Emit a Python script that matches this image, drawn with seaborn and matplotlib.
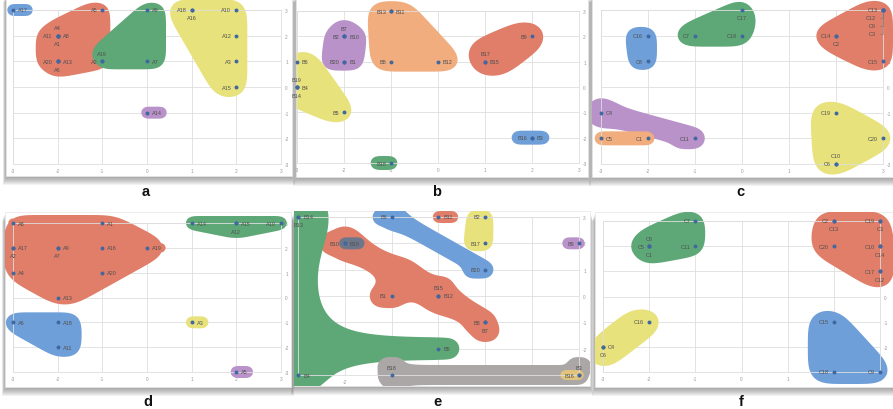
import numpy as np
import pandas as pd
import matplotlib
matplotlib.use("Agg")
import matplotlib.pyplot as plt
import matplotlib.transforms as mtrans
from matplotlib.patches import Rectangle
from matplotlib.path import Path
import seaborn as sns

sns.set_theme(style="white")
plt.rcParams['font.family'] = ['Liberation Sans', 'DejaVu Sans']

# ---- data: label, x, y, label side, group ----
a_lab = ['A17', 'A5', 'A4', 'A11', 'A8', 'A1', 'A20', 'A13', 'A6', 'A2', 'A19', 'A9', 'A7',
         'A18', 'A16', 'A10', 'A12', 'A3', 'A15', 'A14']
a_x = [-3, -1, -2, -2, -2, -2, -2, -2, -2, -1, -1, 0, 0, 1, 1, 2, 2, 2, 2, 0]
a_y = [3, 3, 2, 2, 2, 2, 1, 1, 1, 1, 1, 3, 1, 3, 3, 3, 2, 1, 0, -1]
a_pos = ['r', 'l', 'a', 'l', 'r', 'b', 'l', 'r', 'b', 'l', 'a', 'r', 'r', 'l', 'b', 'l', 'l', 'l', 'l', 'r']
a_grp = ['blue'] + ['red'] * 9 + ['green'] * 3 + ['yellow'] * 6 + ['purple']

b_lab = ['B7', 'B2', 'B10', 'B20', 'B1', 'B13', 'B11', 'B8', 'B12', 'B9', 'B17', 'B15',
         'B6', 'B19', 'B4', 'B14', 'B5', 'B16', 'B3', 'B18']
b_x = [-2, -2, -2, -2, -2, -1, -1, -1, 0, 2, 1, 1, -3, -3, -3, -3, -2, 2, 2, -1]
b_y = [2, 2, 2, 1, 1, 3, 3, 1, 1, 2, 1, 1, 1, 0, 0, 0, -1, -2, -2, -3]
b_pos = ['a', 'l', 'r', 'l', 'r', 'l', 'r', 'l', 'r', 'l', 'a', 'r', 'r', 'al', 'r', 'bl', 'l', 'l', 'r', 'l']
b_grp = ['purple'] * 5 + ['orange'] * 4 + ['red'] * 3 + ['yellow'] * 5 + ['blue'] * 2 + ['green']

c_lab = ['C16', 'C8', 'C17', 'C7', 'C18', 'C13', 'C12', 'C9', 'C3', 'C14', 'C2', 'C15',
         'C4', 'C11', 'C5', 'C1', 'C19', 'C20', 'C10', 'C6']
c_x = [-2, -2, 0, -1, 0, 3, 3, 3, 3, 2, 2, 3, -3, -1, -3, -2, 2, 3, 2, 2]
c_y = [2, 1, 3, 2, 2, 3, 3, 3, 3, 2, 2, 1, -1, -2, -2, -2, -1, -2, -3, -3]
c_pos = ['l', 'l', 'b', 'l', 'l', 'l', 's1', 's2', 's3', 'l', 'b', 'l', 'r', 'l', 'r', 'l', 'l', 'l', 'a', 'l']
c_grp = ['blue'] * 2 + ['green'] * 3 + ['red'] * 7 + ['purple'] * 2 + ['orange'] * 2 + ['yellow'] * 4

d_lab = ['A8', 'A1', 'A17', 'A2', 'A9', 'A7', 'A16', 'A19', 'A4', 'A20', 'A13',
         'A14', 'A15', 'A12', 'A10', 'A6', 'A18', 'A11', 'A3', 'A5']
d_x = [-3, -1, -3, -3, -2, -2, -1, 0, -3, -1, -2, 1, 2, 2, 3, -3, -2, -2, 1, 2]
d_y = [3, 3, 2, 2, 2, 2, 2, 2, 1, 1, 0, 3, 3, 3, 3, -1, -1, -2, -1, -3]
d_pos = ['r', 'r', 'r', 'b', 'r', 'b', 'r', 'r', 'r', 'r', 'r', 'r', 'r', 'b', 'l', 'r', 'r', 'r', 'r', 'r']
d_grp = ['red'] * 11 + ['green'] * 4 + ['blue'] * 3 + ['yellow', 'purple']

e_lab = ['B14', 'B13', 'B4', 'B5', 'B10', 'B15', 'B8', 'B7', 'B1', 'B19', 'B12',
         'B6', 'B20', 'B11', 'B2', 'B17', 'B9', 'B18', 'B3', 'B16']
e_x = [-3, -3, -3, 0, -2, 0, 1, 1, -1, -2, 0, -1, 1, 0, 1, 1, 3, -1, 3, 3]
e_y = [3, 3, -3, -2, 2, 0, -1, -1, 0, 2, 0, 3, 1, 3, 3, 2, 2, -3, -3, -3]
e_pos = ['r', 'b', 'r', 'r', 'l', 'a', 'l', 'b', 'l', 'r', 'r', 'l', 'l', 'r', 'l', 'l', 'l', 'a', 'a', 'l']
e_grp = ['green'] * 4 + ['red'] * 5 + ['slate', 'orange', 'blue', 'blue', 'red2',
                                         'yellow', 'yellow', 'purple', 'gray', 'gray', 'tan']

f_lab = ['C7', 'C8', 'C5', 'C1', 'C11', 'C2', 'C13', 'C19', 'C3', 'C20', 'C10', 'C14',
         'C17', 'C12', 'C16', 'C4', 'C6', 'C15', 'C18', 'C9']
f_x = [-1, -2, -2, -2, -1, 2, 2, 3, 3, 2, 3, 3, 3, 3, -2, -3, -3, 2, 2, 3]
f_y = [3, 2, 2, 2, 2, 3, 3, 3, 3, 2, 2, 2, 1, 1, -1, -2, -2, -1, -3, -3]
f_pos = ['l', 'a', 'l', 'b', 'l', 'l', 'b', 'l', 'b', 'l', 'l', 'b', 'l', 'b', 'l', 'r', 'b', 'l', 'l', 'l']
f_grp = ['green'] * 5 + ['red'] * 9 + ['yellow'] * 3 + ['blue'] * 3

# ---- styles ----
colors = dict(red='#e07e69', red2='#e07e69', green='#5ea877', yellow='#e8e27c', blue='#6f9fd8',
              purple='#b892c8', orange='#f1ad7e', gray='#aba7a7', slate='#6e768a', tan='#e3c47c')
# (group, filled hull, pad px, fillet px, blur px)
a_blobs = [('blue', True, 6, 0, 2), ('red', True, 8, 0, 7), ('green', True, 8, 0, 7),
           ('yellow', True, 11, 0, 9), ('purple', True, 6, 0, 2)]
b_blobs = [('purple', True, 9, 0, 6), ('orange', True, 10, 0, 9), ('red', True, 15, 0, 10),
           ('yellow', True, 11, 0, 9), ('blue', True, 7, 0, 3), ('green', True, 7, 0, 3)]
c_blobs = [('blue', True, 9, 0, 6), ('green', True, 11, 0, 9), ('red', True, 10, 0, 9),
           ('purple', False, 11, 6, 5), ('orange', True, 7, 0, 3), ('yellow', True, 12, 0, 10)]
d_blobs = [('red', True, 8, 0, 10), ('green', True, 7, 0, 4), ('blue', True, 10, 0, 7),
           ('yellow', True, 6, 0, 2), ('purple', True, 6, 0, 2)]
e_blobs = [('orange', True, 6, 0, 2), ('red', False, 12, 8, 5), ('slate', True, 6, 0, 2),
           ('green', False, 11, 28, 5), ('blue', False, 9, 6, 4), ('red2', True, 6, 0, 2),
           ('yellow', True, 8, 0, 5), ('purple', True, 6, 0, 2), ('gray', False, 10, 6, 3),
           ('tan', True, 5, 0, 2)]
f_blobs = [('green', True, 10, 0, 8), ('red', True, 10, 0, 10), ('yellow', True, 13, 0, 9),
           ('blue', True, 12, 0, 10)]

# layout in pixels (x0, top, x1, bottom)
W, H, DPI = 893, 410, 100
axes_px = dict(a=(13, 11, 281, 165), b=(297, 12, 579, 164), c=(601, 11, 883, 165),
               d=(13, 224, 281, 373), e=(298, 218, 579, 376), f=(603, 222, 880, 373))
cards_px = dict(a=(6, -6, 292, 177), b=(296, -6, 588, 178), c=(592, -6, 899, 178),
                d=(5, 213, 291, 388), e=(294, 212, 590, 387), f=(595, 213, 899, 388))
letter_px = dict(a=(146, 192), b=(437, 192), c=(740, 192), d=(148, 402), e=(437, 402), f=(741, 402))

SIDE = dict(r=(5, 0, 'left'), l=(-5, 0, 'right'), a=(0, 8, 'center'), b=(0, -8, 'center'),
            al=(4, 8, 'right'), bl=(4, -8, 'right'),
            s1=(-7, -8, 'right'), s2=(-7, -16, 'right'), s3=(-7, -24, 'right'))
CHAR_W = 3.0
FS = 4.0
NG = 460


def label_seg(p, pos, text):
    w = CHAR_W * len(text)
    dx, dy, ha = SIDE[pos]
    x0 = p[0] + dx - (w if ha == 'right' else w / 2 if ha == 'center' else 0)
    return ((x0, p[1] + dy), (x0 + w, p[1] + dy))


def seg_dist(PX, PY, a, b):
    dx, dy = b[0] - a[0], b[1] - a[1]
    L = dx * dx + dy * dy
    t = 0 if L == 0 else np.clip(((PX - a[0]) * dx + (PY - a[1]) * dy) / L, 0, 1)
    return np.hypot(PX - (a[0] + t * dx), PY - (a[1] + t * dy))


def nearest_on(p, a, b):
    dx, dy = b[0] - a[0], b[1] - a[1]
    L = dx * dx + dy * dy
    t = 0 if L == 0 else min(max(((p[0] - a[0]) * dx + (p[1] - a[1]) * dy) / L, 0), 1)
    return (a[0] + t * dx, a[1] + t * dy)


def hull(points):
    pts = sorted(set(points))
    if len(pts) <= 2:
        return pts

    def cross(o, a, b):
        return (a[0] - o[0]) * (b[1] - o[1]) - (a[1] - o[1]) * (b[0] - o[0])
    lower, upper = [], []
    for p in pts:
        while len(lower) >= 2 and cross(lower[-2], lower[-1], p) <= 0:
            lower.pop()
        lower.append(p)
    for p in reversed(pts):
        while len(upper) >= 2 and cross(upper[-2], upper[-1], p) <= 0:
            upper.pop()
        upper.append(p)
    return lower[:-1] + upper[:-1]


def poly_dist(PX, PY, poly):
    if len(poly) == 1:
        return np.hypot(PX - poly[0][0], PY - poly[0][1])
    if len(poly) == 2:
        return seg_dist(PX, PY, poly[0], poly[1])
    d = np.min([seg_dist(PX, PY, poly[i], poly[(i + 1) % len(poly)]) for i in range(len(poly))], axis=0)
    inside = Path(poly).contains_points(np.c_[PX.ravel(), PY.ravel()]).reshape(PX.shape)
    d[inside] = 0
    return d


def smooth_min(comps, k):
    comps = np.array(comps)
    m = comps.min(axis=0)
    if k <= 0 or len(comps) == 1:
        return m
    return m - k * np.log(np.exp(-(comps - m) / k).sum(axis=0))


def blur(M, sig_x, sig_y):
    def conv1(A, sig, axis):
        if sig <= 0.3:
            return A
        rad = int(3 * sig) + 1
        k = np.exp(-0.5 * (np.arange(-rad, rad + 1) / sig) ** 2)
        k /= k.sum()
        return np.apply_along_axis(lambda v: np.convolve(v, k, mode='same'), axis, A)
    return conv1(conv1(M, sig_x, 1), sig_y, 0)


def soft_mask(D, r):
    return 1.0 / (1.0 + np.exp(np.clip((D - r) / 0.6, -50, 50)))


fig = plt.figure(figsize=(W / DPI, H / DPI), dpi=DPI)
fig.patch.set_facecolor('white')


def px_rect(r):
    x0, t, x1, b = r
    return x0 / W, 1 - b / H, (x1 - x0) / W, (b - t) / H


def draw_panel(key, lab, xs, ys, pos, grp, blobs):
    l, b, w, h = px_rect(cards_px[key])
    # drop shadow under the white card
    for i in range(1, 9):
        fig.patches.append(Rectangle((l - 0.4 * i / W, b - (i + 1) / H), w + 0.8 * i / W, h,
                                     transform=fig.transFigure, facecolor='#5a5a5a',
                                     edgecolor='none', alpha=0.08, zorder=-6))
    card = Rectangle((l, b), w, h, transform=fig.transFigure, facecolor='white',
                     edgecolor='#e6e6e6', lw=0.5, zorder=-5)
    fig.patches.append(card)

    ax = fig.add_axes(px_rect(axes_px[key]))
    ax.set_facecolor('none')
    x0, t, x1, bt = axes_px[key]
    sx, sy = (x1 - x0) / 6, (bt - t) / 6

    df = pd.DataFrame(dict(label=lab, x=xs, y=ys, pos=pos, grp=grp))

    gx = np.linspace(-3.8, 3.8, NG)
    gy = np.linspace(-4.0, 4.0, NG)
    X, Y = np.meshgrid(gx, gy)
    PX, PY = X * sx, Y * sy
    step_x, step_y = (gx[1] - gx[0]) * sx, (gy[1] - gy[0]) * sy

    for g, fill, r, k, sig in blobs:
        sub = df[df.grp == g]
        pts = [(px * sx, py * sy) for px, py in zip(sub.x, sub.y)]
        lsegs = [label_seg(p, ps, tx) for p, ps, tx in zip(pts, sub.pos, sub.label)]
        own = np.min([seg_dist(PX, PY, p, p) for p in pts] +
                     [seg_dist(PX, PY, a, c) for a, c in lsegs], axis=0)
        if fill:
            D = poly_dist(PX, PY, hull(pts + [q for sg in lsegs for q in sg]))
        else:
            uniq = list(dict.fromkeys(pts))
            skel = [(uniq[0], uniq[0])]
            for p in uniq[1:]:
                cands = [nearest_on(p, a, c) for a, c in skel]
                q = min(cands, key=lambda c: np.hypot(c[0] - p[0], c[1] - p[1]))
                skel.append((q, p))
            D = smooth_min([seg_dist(PX, PY, a, c) for a, c in skel], k)
            D = np.minimum(D, own)
        M = blur(soft_mask(D, r), sig / step_x, sig / step_y)
        F = np.maximum(M, soft_mask(own, 4.5))
        cs = ax.contourf(X, Y, F, levels=[0.5, 2], colors=[colors[g]],
                         zorder=1, antialiased=True)
        cs.set_clip_path(card)

    sns.scatterplot(data=df, x='x', y='y', ax=ax, color='#41679f', s=8, linewidth=0,
                    zorder=3, legend=False, clip_on=False)

    for _, row in df.iterrows():
        dx, dy, ha = SIDE[row.pos]
        if row.pos.startswith('s'):
            ann = ax.annotate(row.label, xy=(row.x, row.y), xytext=(dx * 0.72, dy * 0.72),
                              textcoords='offset points', ha=ha, va='center', fontsize=FS,
                              color='#4f4f4f', zorder=4, annotation_clip=False,
                              arrowprops=dict(arrowstyle='-', color='#777777', lw=0.4,
                                              shrinkA=0.5, shrinkB=2, relpos=(1, 0.5),
                                              connectionstyle='angle,angleA=0,angleB=90,rad=0'))
            ann.set_clip_path(card)
            continue
        tr = ax.transData + mtrans.ScaledTranslation(dx / DPI, dy / DPI, fig.dpi_scale_trans)
        txt = ax.text(row.x, row.y, row.label, transform=tr, ha=ha, va='center',
                      fontsize=FS, color='#4f4f4f', zorder=4)
        txt.set_clip_path(card)

    ticks = list(range(-3, 4))
    ax.set_xticks(ticks)
    ax.set_yticks(ticks)
    ax.set_xticklabels([str(v) for v in ticks])
    ax.set_yticklabels([str(v) for v in ticks])
    ax.yaxis.tick_right()
    ax.tick_params(axis='both', length=0, labelsize=3.4, labelcolor='#9a9a9a', pad=3)
    ax.grid(True, color='#dedede', lw=0.6)
    ax.set_axisbelow(True)
    for sp in ax.spines.values():
        sp.set_color('#dedede')
        sp.set_linewidth(0.6)
    ax.set_xlim(-3, 3)
    ax.set_ylim(-3, 3)
    ax.set_xlabel('')
    ax.set_ylabel('')

    lx, ly = letter_px[key]
    fig.text(lx / W, 1 - ly / H, key, ha='center', va='center', fontsize=10.5,
             fontweight='bold', color='#111111')


draw_panel('a', a_lab, a_x, a_y, a_pos, a_grp, a_blobs)
draw_panel('b', b_lab, b_x, b_y, b_pos, b_grp, b_blobs)
draw_panel('c', c_lab, c_x, c_y, c_pos, c_grp, c_blobs)
draw_panel('d', d_lab, d_x, d_y, d_pos, d_grp, d_blobs)
draw_panel('e', e_lab, e_x, e_y, e_pos, e_grp, e_blobs)
draw_panel('f', f_lab, f_x, f_y, f_pos, f_grp, f_blobs)

fig.savefig('out.png', dpi=DPI, facecolor='white')
